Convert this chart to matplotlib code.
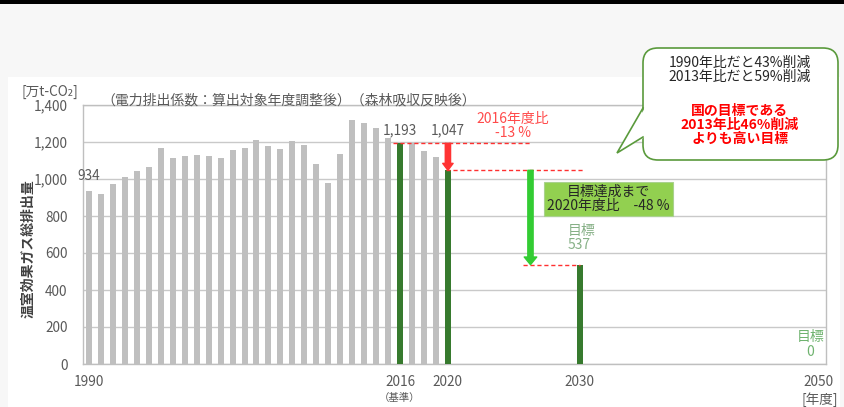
import matplotlib
matplotlib.use('Agg')
import matplotlib.pyplot as plt
from matplotlib.patches import Rectangle, FancyBboxPatch, Polygon, FancyArrowPatch
from matplotlib.ticker import FuncFormatter

plt.rcParams['font.family'] = ['Noto Sans CJK JP', 'DejaVu Sans']

# ---- data ----
hist_years = list(range(1990, 2021))
hist_values = [934, 917, 971, 1012, 1043, 1063, 1169, 1112, 1126, 1131,
               1126, 1113, 1158, 1169, 1211, 1180, 1160, 1207, 1182, 1079,
               980, 1135, 1319, 1304, 1274, 1222, 1193, 1196, 1151, 1121,
               1047]
target_years = [2030, 2050]
target_values = [537, 0]
highlight_years = [2016, 2020, 2030]
tick_years = [1990, 2016, 2020, 2030, 2050]
y_ticks = [0, 200, 400, 600, 800, 1000, 1200, 1400]

GRAY = '#bfbfbf'
DGREEN = '#377a2e'
TXT = '#595959'
RED = '#ff4b4b'


def cat_pos(year):
    # category axis: one blank slot after 2020
    return year - 1990 if year <= 2020 else year - 1989


fig = plt.figure(figsize=(8.45, 4.07), dpi=100)
fig.patch.set_facecolor('#f7f7f7')

# background / overlay in pixel coords
bg = fig.add_axes([0, 0, 1, 1], zorder=0)
bg.set_xlim(0, 845)
bg.set_ylim(407, 0)
bg.axis('off')
bg.add_patch(Rectangle((8, 77), 832, 330, facecolor='white', edgecolor='none'))
bg.add_patch(Rectangle((0, 0), 845, 4, facecolor='black', edgecolor='none'))

ax = fig.add_axes([83 / 845, 1 - 364 / 407, (826 - 83) / 845, (364 - 105) / 407], zorder=2)
ax.set_facecolor('white')

all_years = hist_years + target_years
all_values = hist_values + target_values
for yr, val in zip(all_years, all_values):
    col = DGREEN if yr in highlight_years else GRAY
    ax.bar(cat_pos(yr), val, width=0.5, color=col, zorder=3)

ax.set_xlim(-0.5, 61.6)
ax.set_ylim(0, 1400)
ax.set_yticks(y_ticks)
ax.yaxis.set_major_formatter(FuncFormatter(lambda v, p: f'{int(v):,}'))
ax.set_xticks([cat_pos(y) for y in tick_years])
ax.set_xticklabels([str(y) for y in tick_years])
ax.tick_params(length=0, labelsize=9.8, colors=TXT)
ax.tick_params(axis='x', pad=8)
ax.tick_params(axis='y', pad=11)
ax.grid(axis='y', color='#c9c9c9', lw=1, zorder=0)
for s in ax.spines.values():
    s.set_color('#bfbfbf')
    s.set_linewidth(1)

# value labels
ax.text(cat_pos(1990), 1016, f'{hist_values[0]}', ha='center', va='center', fontsize=9.8, color=TXT)
v2016 = hist_values[hist_years.index(2016)]
v2020 = hist_values[hist_years.index(2020)]
v2030 = target_values[0]
ax.text(cat_pos(2016), 1265, f'{v2016:,}', ha='center', va='center', fontsize=9.8, color=TXT)
ax.text(cat_pos(2020), 1265, f'{v2020:,}', ha='center', va='center', fontsize=9.8, color=TXT)
ax.text(35.45, 1324, '2016年度比', ha='center', va='center', fontsize=10, color=RED)
ax.text(35.45, 1249, '-13 %', ha='center', va='center', fontsize=10, color=RED)

# dashed guide lines
ax.plot([25.4, 36.9], [v2016, v2016], ls=(0, (3, 2)), color='#ff3030', lw=1, zorder=4)
ax.plot([29.8, 41.3], [v2020, v2020], ls=(0, (3, 2)), color='#ff3030', lw=1, zorder=4)
ax.plot([36.3, 41.05], [v2030, v2030], ls=(0, (3, 2)), color='#ff3030', lw=1, zorder=4)

# arrows
ax.add_patch(FancyArrowPatch((cat_pos(2020), v2016), (cat_pos(2020), v2020),
                             arrowstyle='simple,head_width=0.75,head_length=0.5,tail_width=0.38',
                             mutation_scale=10, color='#ff3333', shrinkA=0, shrinkB=0, zorder=5))
ax.add_patch(FancyArrowPatch((36.9, v2020), (36.9, v2030),
                             arrowstyle='simple,head_width=0.9,head_length=0.55,tail_width=0.38',
                             mutation_scale=10, color='#33cc33', shrinkA=0, shrinkB=0, zorder=5))

# green box
ax.text(43.4, 892, '目標達成まで\n2020年度比　-48 %', ha='center', va='center', fontsize=10,
        color='#262626', linespacing=1.05, zorder=6,
        bbox=dict(boxstyle='square,pad=0.22', facecolor='#92d050', edgecolor='#a9d18e', lw=0.8))

ax.text(40.0, 719, '目標', ha='left', va='center', fontsize=10, color='#86b086')
ax.text(40.0, 643, f'{v2030}', ha='left', va='center', fontsize=10, color='#86b086')
ax.text(60.3, 146, '目標', ha='center', va='center', fontsize=10, color='#6fb36f')
ax.text(60.3, 65, f'{target_values[1]}', ha='center', va='center', fontsize=10, color='#6fb36f')

# foreground overlay for free text and callout
fg = fig.add_axes([0, 0, 1, 1], zorder=3)
fg.set_xlim(0, 845)
fg.set_ylim(407, 0)
fg.axis('off')
fg.patch.set_alpha(0)

fg.text(50, 92, '[万t-CO₂]', ha='center', va='center', fontsize=9.8, color=TXT)
fg.text(101, 100, '（電力排出係数：算出対象年度調整後）（森林吸収反映後）', ha='left', va='center',
        fontsize=10, color=TXT)
fg.text(28, 249, '温室効果ガス総排出量', rotation=90, ha='center', va='center', fontsize=10,
        fontweight='bold', color='#404040')
fg.text(400, 398, '（基準）', ha='center', va='center', fontsize=7.5, color=TXT)
fg.text(820, 400, '[年度]', ha='center', va='center', fontsize=9.8, color=TXT)

# callout bubble
EDGE = '#5a9a3c'
fg.add_patch(FancyBboxPatch((643, 48), 195, 112, boxstyle='round,pad=0,rounding_size=15',
                            facecolor='white', edgecolor=EDGE, lw=1.2))
fg.add_patch(Polygon([(645, 108), (617, 153), (645, 137)], closed=True,
                     facecolor='white', edgecolor='none'))
fg.plot([643, 617, 643], [108, 153, 137], color=EDGE, lw=1.2, solid_joinstyle='miter')

fg.text(740, 63, '1990年比だと43%削減', ha='center', va='center', fontsize=10, color='#262626')
fg.text(740, 77, '2013年比だと59%削減', ha='center', va='center', fontsize=10, color='#262626')
fg.text(740, 111, '国の目標である', ha='center', va='center', fontsize=10, color='#ff0000', fontweight='bold')
fg.text(740, 125, '2013年比46%削減', ha='center', va='center', fontsize=10, color='#ff0000', fontweight='bold')
fg.text(740, 139, 'よりも高い目標', ha='center', va='center', fontsize=10, color='#ff0000', fontweight='bold')

plt.savefig('out.png', dpi=100, facecolor=fig.get_facecolor())
